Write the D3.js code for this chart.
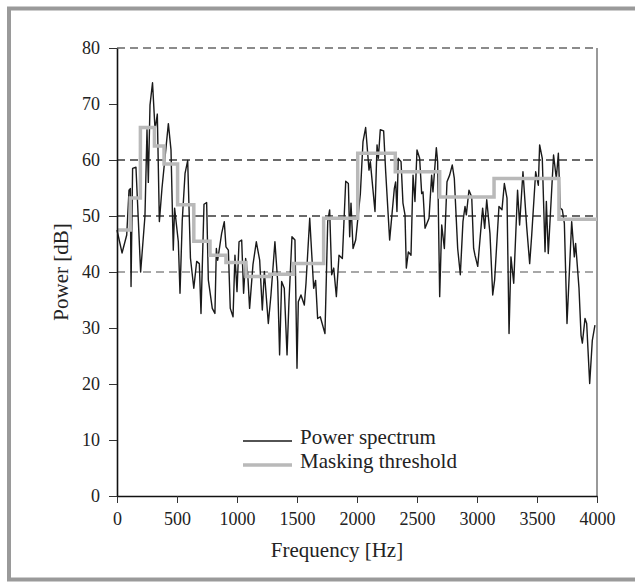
<!DOCTYPE html>
<html>
<head>
<meta charset="utf-8">
<script src="https://cdn.jsdelivr.net/npm/d3@7"></script>
<style>
  body { margin: 0; background: #fff; }
  svg text { font-family: "Liberation Serif", "Times New Roman", serif; fill: #222; }
</style>
</head>
<body>
<svg id="chart" width="635" height="583"></svg>
<script>
// power spectrum (frequency in Hz, power in dB)
let spectrumFreq = [0, 42, 81, 100, 111, 117, 130, 158, 197, 233, 250, 261, 275, 296, 317, 336, 353, 375, 428, 450,
  469, 480, 511, 525, 544, 567, 589, 612, 640, 664, 686, 700, 725, 747, 761, 794, 816, 828, 839, 872,
  894, 908, 928, 944, 967, 983, 1000, 1017, 1039, 1055, 1072, 1089, 1105, 1133, 1161, 1189, 1211, 1228, 1261, 1283,
  1316, 1339, 1355, 1372, 1394, 1417, 1433, 1458, 1483, 1500, 1511, 1533, 1561, 1575, 1606, 1639, 1655, 1672, 1694, 1733,
  1756, 1772, 1789, 1806, 1828, 1850, 1878, 1906, 1928, 1939, 1950, 1967, 1989, 2028, 2050, 2072, 2100, 2111, 2150, 2167,
  2178, 2194, 2222, 2239, 2272, 2311, 2322, 2333, 2344, 2367, 2383, 2400, 2411, 2428, 2450, 2467, 2483, 2500, 2522, 2539,
  2550, 2567, 2600, 2622, 2633, 2661, 2672, 2689, 2706, 2728, 2750, 2772, 2794, 2811, 2839, 2861, 2883, 2900, 2911, 2933,
  2956, 2972, 2983, 3006, 3047, 3064, 3081, 3108, 3131, 3147, 3183, 3208, 3228, 3250, 3267, 3283, 3306, 3338, 3355, 3383,
  3414, 3439, 3456, 3489, 3511, 3522, 3544, 3567, 3578, 3594, 3638, 3661, 3678, 3694, 3711, 3728, 3750, 3789, 3811, 3822,
  3850, 3867, 3878, 3900, 3914, 3939, 3961, 3983];
let spectrumPower = [47.5, 43.4, 46.6, 54.6, 54.9, 37.4, 58.5, 58.7, 40.0, 50.0, 65.4, 56.0, 69.8, 73.8, 65.4, 68.2, 49.0, 55.0, 66.5, 61.8,
  43.9, 51.4, 45.4, 36.2, 49.3, 57.6, 59.9, 42.5, 37.1, 41.9, 41.5, 32.6, 52.1, 52.4, 38.6, 33.5, 32.6, 44.2, 42.1, 46.9,
  49.0, 44.5, 43.9, 33.5, 32.0, 43.0, 36.5, 45.4, 45.7, 36.2, 42.4, 39.8, 33.5, 41.3, 45.4, 42.1, 33.2, 40.1, 30.8, 35.9,
  45.4, 38.3, 25.2, 38.3, 37.1, 25.2, 34.7, 46.3, 45.7, 22.8, 34.7, 35.9, 34.1, 38.0, 49.6, 37.1, 38.5, 31.7, 32.0, 29.0,
  49.0, 51.1, 39.5, 40.7, 35.6, 43.0, 42.4, 56.2, 55.8, 46.3, 52.3, 44.2, 45.7, 54.0, 63.3, 65.8, 58.2, 59.7, 50.8, 62.7,
  60.3, 65.4, 65.2, 57.9, 45.7, 54.9, 56.1, 50.8, 60.3, 59.7, 52.3, 50.2, 40.7, 43.6, 43.0, 57.3, 52.6, 61.8, 60.3, 54.0,
  54.3, 47.8, 49.6, 57.3, 54.3, 62.2, 59.7, 35.6, 48.4, 44.2, 56.1, 57.3, 59.1, 56.7, 44.2, 39.5, 49.0, 51.7, 50.2, 54.6,
  53.4, 44.2, 43.0, 41.0, 51.4, 47.8, 52.9, 46.9, 35.9, 38.6, 51.7, 51.1, 55.8, 53.2, 29.0, 42.7, 38.0, 54.6, 48.4, 57.9,
  48.1, 41.5, 46.6, 57.9, 55.5, 62.7, 60.3, 43.6, 52.6, 43.3, 60.9, 56.7, 61.2, 51.4, 51.1, 48.7, 30.8, 49.0, 42.7, 45.1,
  37.1, 28.7, 27.3, 31.7, 30.8, 20.1, 27.8, 30.5];

// masking threshold, one level per band
let bandEdges = [0, 110, 195, 312, 392, 505, 640, 775, 908, 1075, 1272, 1472, 1722, 2006, 2319, 2689, 3142, 3683, 4000];
let bandLevels = [47.5, 53.2, 65.8, 62.5, 59.3, 52.0, 45.5, 43.0, 41.7, 39.2, 39.6, 41.5, 49.6, 61.2, 57.9, 53.4, 56.7, 49.4];

let xTicks = [0, 500, 1000, 1500, 2000, 2500, 3000, 3500, 4000];
let yTicks = [0, 10, 20, 30, 40, 50, 60, 70, 80];
let gridLevels = [40, 50, 60, 80];
let legendLabels = ["Power spectrum", "Masking threshold"];

let margin = {top: 48, right: 38, bottom: 87, left: 117},
    width = 635 - margin.left - margin.right,
    height = 583 - margin.top - margin.bottom;

let svg = d3.select("#chart");

// grey frame round the figure
svg.append("rect")
    .attr("x", 9).attr("y", 8.5)
    .attr("width", 640).attr("height", 571)
    .attr("fill", "none")
    .attr("stroke", "#9a9a9a")
    .attr("stroke-width", 4);

let g = svg.append("g")
    .attr("transform", "translate(" + margin.left + "," + margin.top + ")");

let x = d3.scaleLinear().domain([0, 4000]).range([0, width]);
let y = d3.scaleLinear().domain([0, 80]).range([height, 0]);

// dashed grid lines
g.selectAll(".grid")
  .data(gridLevels)
  .enter().append("line")
    .attr("x1", 0).attr("x2", width)
    .attr("y1", d => y(d)).attr("y2", d => y(d))
    .attr("stroke", d => d === 40 ? "#8a8a8a" : (d === 80 ? "#666" : "#3a3a3a"))
    .attr("stroke-width", 1.3)
    .attr("stroke-dasharray", "8,5");

// right border of the plot
g.append("line")
    .attr("x1", width).attr("x2", width)
    .attr("y1", 0).attr("y2", height)
    .attr("stroke", "#777")
    .attr("stroke-width", 1.5);

// power spectrum
let spectrum = spectrumFreq.map((f, i) => [f, spectrumPower[i]]);
let line = d3.line().x(d => x(d[0])).y(d => y(d[1]));

g.append("path")
    .datum(spectrum)
    .attr("fill", "none")
    .attr("stroke", "#1a1a1a")
    .attr("stroke-width", 1.4)
    .attr("stroke-linejoin", "round")
    .attr("d", line);

// masking threshold as a step line
let steps = bandLevels.map((v, i) => [bandEdges[i], v]);
steps.push([bandEdges[bandEdges.length - 1], bandLevels[bandLevels.length - 1]]);

g.append("path")
    .datum(steps)
    .attr("fill", "none")
    .attr("stroke", "#b9b9b9")
    .attr("stroke-width", 3.5)
    .attr("d", line.curve(d3.curveStepAfter));

// axes
let xAxis = g.append("g")
    .attr("transform", "translate(0," + height + ")")
    .call(d3.axisBottom(x).tickValues(xTicks).tickFormat(d3.format("d"))
            .tickSize(7).tickSizeOuter(0).tickPadding(9));
let yAxis = g.append("g")
    .call(d3.axisLeft(y).tickValues(yTicks).tickFormat(d3.format("d"))
            .tickSize(8).tickSizeOuter(0).tickPadding(9));

[xAxis, yAxis].forEach(a => {
  a.select(".domain").attr("stroke", "#111").attr("stroke-width", 1.6);
  a.selectAll(".tick line").attr("stroke", "#333").attr("stroke-width", 1);
  a.selectAll("text").style("font-size", "18px").attr("fill", "#222");
});

// axis titles
svg.append("text")
    .attr("x", 337).attr("y", 557)
    .attr("text-anchor", "middle")
    .style("font-size", "21px")
    .text("Frequency [Hz]");

svg.append("text")
    .attr("transform", "translate(68,272) rotate(-90)")
    .attr("text-anchor", "middle")
    .style("font-size", "21px")
    .text("Power [dB]");

// legend
let legend = svg.append("g").attr("transform", "translate(243,441)");
let legendColors = ["#1a1a1a", "#b9b9b9"];
let legendWidths = [1.4, 3.5];

legendLabels.forEach((label, i) => {
  legend.append("line")
      .attr("x1", 0).attr("x2", 49)
      .attr("y1", i * 24).attr("y2", i * 24)
      .attr("stroke", legendColors[i])
      .attr("stroke-width", legendWidths[i]);
  legend.append("text")
      .attr("x", 57).attr("y", i * 24 + 2.5)
      .style("font-size", "21px")
      .text(label);
});
</script>
</body>
</html>
